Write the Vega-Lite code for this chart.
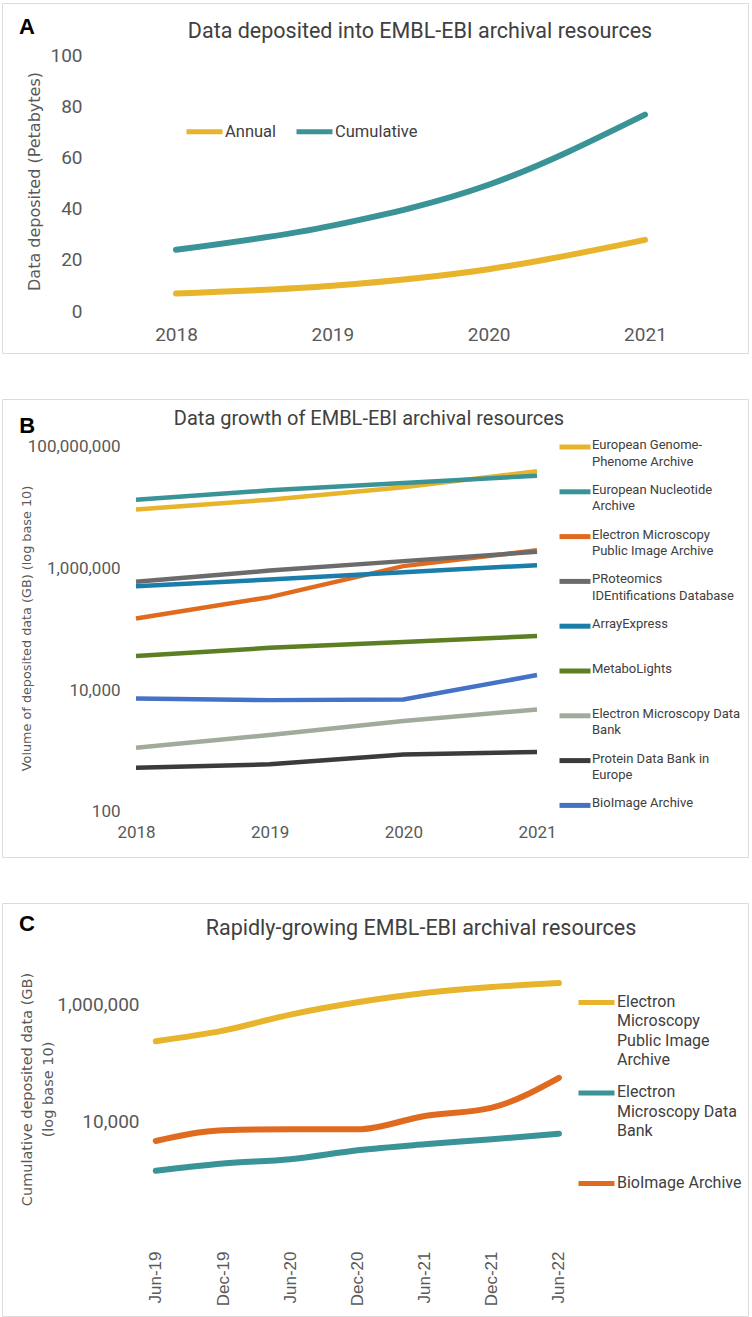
{
  "$schema": "https://vega.github.io/schema/vega-lite/v6.json",
  "padding": {"left": 1, "top": 2, "right": 4, "bottom": 2},
  "background": "white",
  "bounds": "flush",
  "spacing": 46,
  "resolve": {
    "scale": {"x": "independent", "y": "independent", "color": "independent"},
    "legend": {"color": "independent"},
    "axis": {"x": "independent", "y": "independent"}
  },
  "config": {
    "view": {"stroke": "#dcdcdc", "strokeWidth": 1},
    "axis": {
      "grid": false, "domain": false, "ticks": false, "tickSize": 0,
      "labelFont": "Roboto", "labelColor": "#595959",
      "titleFont": "DejaVu Sans", "titleColor": "#595959", "titleFontWeight": "normal",
      "labelFlush": false, "labelOverlap": false, "labelBound": false
    },
    "title": {"font": "Roboto", "color": "#404040", "fontWeight": "normal"},
    "legend": {"labelFont": "Roboto", "labelColor": "#404040"}
  },
  "vconcat": [
    {
      "width": 746,
      "height": 350,
      "title": {"text": "Data deposited into EMBL-EBI archival resources", "fontSize": 21.5, "anchor": "middle", "frame": "group", "dx": 45, "offset": -39},
      "layer": [
        {
          "data": {"values": [
            {"series": "Annual", "year": 2018, "petabytes": 6.9},
            {"series": "Annual", "year": 2019, "petabytes": 9.9},
            {"series": "Annual", "year": 2020, "petabytes": 16.4},
            {"series": "Annual", "year": 2021, "petabytes": 27.9},
            {"series": "Cumulative", "year": 2018, "petabytes": 24},
            {"series": "Cumulative", "year": 2019, "petabytes": 33.5},
            {"series": "Cumulative", "year": 2020, "petabytes": 49.5},
            {"series": "Cumulative", "year": 2021, "petabytes": 77}
          ]},
          "mark": {"type": "line", "interpolate": "monotone", "strokeWidth": 6, "strokeCap": "round"},
          "encoding": {
            "x": {"field": "year", "type": "quantitative",
              "scale": {"domain": [2016.887, 2021.659], "nice": false, "zero": false},
              "axis": {"values": [2018, 2019, 2020, 2021], "format": "d", "labelFontSize": 19, "labelPadding": 0, "labelBaseline": "middle", "offset": -19, "title": null}},
            "y": {"field": "petabytes", "type": "quantitative",
              "scale": {"domain": [-16.47, 120.78], "nice": false, "zero": false},
              "axis": {"values": [0, 20, 40, 60, 80, 100], "labelFontSize": 19, "labelPadding": 2, "offset": -82, "labelAlign": "right", "labelBaseline": "middle",
                "title": "Data deposited (Petabytes)", "titleFontSize": 16, "titleX": -50, "titleY": 178, "titleAngle": -90, "titleAlign": "center", "titleBaseline": "middle"}},
            "color": {"field": "series", "type": "nominal",
              "scale": {"domain": ["Annual", "Cumulative"], "range": ["#E7B42B", "#3A9396"]},
              "legend": {"orient": "none", "legendX": 182, "legendY": 108, "direction": "horizontal", "title": null,
                "symbolType": "stroke", "symbolSize": 1296, "symbolStrokeWidth": 5, "labelFontSize": 16.5, "labelOffset": 0, "columnPadding": 9}}
          }
        },
        {
          "data": {"values": [{"panel": "A"}]},
          "mark": {"type": "text", "font": "Liberation Sans", "fontWeight": "bold", "fontSize": 22, "color": "#000000", "align": "center", "baseline": "middle"},
          "encoding": {
            "x": {"datum": 2017.047, "type": "quantitative"},
            "y": {"datum": 111.4, "type": "quantitative"},
            "text": {"field": "panel"}
          }
        }
      ]
    },
    {
      "width": 746,
      "height": 458,
      "title": {"text": "Data growth of EMBL-EBI archival resources", "fontSize": 20, "anchor": "middle", "frame": "group", "dx": -6, "offset": -30},
      "layer": [
        {
          "data": {"values": [
            {"resource": "European Genome-Phenome Archive", "year": 2018, "gb": 9350000},
            {"resource": "European Genome-Phenome Archive", "year": 2019, "gb": 13600000},
            {"resource": "European Genome-Phenome Archive", "year": 2020, "gb": 21800000},
            {"resource": "European Genome-Phenome Archive", "year": 2021, "gb": 39800000},
            {"resource": "European Nucleotide Archive", "year": 2018, "gb": 13600000},
            {"resource": "European Nucleotide Archive", "year": 2019, "gb": 19400000},
            {"resource": "European Nucleotide Archive", "year": 2020, "gb": 25600000},
            {"resource": "European Nucleotide Archive", "year": 2021, "gb": 33800000},
            {"resource": "Electron Microscopy Public Image Archive", "year": 2018, "gb": 152000},
            {"resource": "Electron Microscopy Public Image Archive", "year": 2019, "gb": 340000},
            {"resource": "Electron Microscopy Public Image Archive", "year": 2020, "gb": 1100000},
            {"resource": "Electron Microscopy Public Image Archive", "year": 2021, "gb": 2000000},
            {"resource": "PRoteomics IDEntifications Database", "year": 2018, "gb": 607000},
            {"resource": "PRoteomics IDEntifications Database", "year": 2019, "gb": 930000},
            {"resource": "PRoteomics IDEntifications Database", "year": 2020, "gb": 1330000},
            {"resource": "PRoteomics IDEntifications Database", "year": 2021, "gb": 1890000},
            {"resource": "ArrayExpress", "year": 2018, "gb": 515000},
            {"resource": "ArrayExpress", "year": 2019, "gb": 663000},
            {"resource": "ArrayExpress", "year": 2020, "gb": 874000},
            {"resource": "ArrayExpress", "year": 2021, "gb": 1140000},
            {"resource": "MetaboLights", "year": 2018, "gb": 36500},
            {"resource": "MetaboLights", "year": 2019, "gb": 50000},
            {"resource": "MetaboLights", "year": 2020, "gb": 62000},
            {"resource": "MetaboLights", "year": 2021, "gb": 78000},
            {"resource": "Electron Microscopy Data Bank", "year": 2018, "gb": 1140},
            {"resource": "Electron Microscopy Data Bank", "year": 2019, "gb": 1840},
            {"resource": "Electron Microscopy Data Bank", "year": 2020, "gb": 3120},
            {"resource": "Electron Microscopy Data Bank", "year": 2021, "gb": 4850},
            {"resource": "Protein Data Bank in Europe", "year": 2018, "gb": 535},
            {"resource": "Protein Data Bank in Europe", "year": 2019, "gb": 607},
            {"resource": "Protein Data Bank in Europe", "year": 2020, "gb": 885},
            {"resource": "Protein Data Bank in Europe", "year": 2021, "gb": 966},
            {"resource": "BioImage Archive", "year": 2018, "gb": 7360},
            {"resource": "BioImage Archive", "year": 2019, "gb": 6900},
            {"resource": "BioImage Archive", "year": 2020, "gb": 7080},
            {"resource": "BioImage Archive", "year": 2021, "gb": 17800}
          ]},
          "mark": {"type": "line", "interpolate": "linear", "strokeWidth": 4.5},
          "encoding": {
            "x": {"field": "year", "type": "quantitative",
              "scale": {"domain": [2016.9975, 2022.5785], "nice": false, "zero": false},
              "axis": {"values": [2018, 2019, 2020, 2021], "format": "d", "labelFontSize": 17, "labelPadding": 0, "labelBaseline": "middle", "offset": -25, "title": null}},
            "y": {"field": "gb", "type": "quantitative",
              "scale": {"type": "log", "domain": [18.2, 615000000], "nice": false, "zero": false},
              "axis": {"values": [100, 10000, 1000000, 100000000], "format": ",d", "labelFontSize": 17, "labelPadding": 2, "offset": -120, "labelAlign": "right", "labelBaseline": "middle",
                "title": "Volume of deposited data (GB) (log base 10)", "titleFontSize": 12.8, "titleX": -96, "titleY": 229, "titleAngle": -90, "titleAlign": "center", "titleBaseline": "middle"}},
            "color": {"field": "resource", "type": "nominal",
              "scale": {
                "domain": ["European Genome-Phenome Archive", "European Nucleotide Archive", "Electron Microscopy Public Image Archive", "PRoteomics IDEntifications Database", "ArrayExpress", "MetaboLights", "Electron Microscopy Data Bank", "Protein Data Bank in Europe", "BioImage Archive"],
                "range": ["#E7B42B", "#3A9396", "#E06B1F", "#6B6B6B", "#1A7DAA", "#5B7F22", "#A0AB9B", "#3B3B3B", "#4472C4"]},
              "legend": {"orient": "none", "legendX": 555, "legendY": 30, "direction": "vertical", "title": null,
                "symbolType": "stroke", "symbolSize": 961, "symbolStrokeWidth": 5, "labelFontSize": 13, "labelOffset": -1, "labelLimit": 250,
                "gridAlign": "all", "rowPadding": 4.8, "labelBaseline": "top",
                "labelExpr": "datum.label == 'European Genome-Phenome Archive' ? ['European Genome-', 'Phenome Archive'] : datum.label == 'European Nucleotide Archive' ? ['European Nucleotide', 'Archive'] : datum.label == 'Electron Microscopy Public Image Archive' ? ['Electron Microscopy', 'Public Image Archive'] : datum.label == 'PRoteomics IDEntifications Database' ? ['PRoteomics', 'IDEntifications Database'] : datum.label == 'Electron Microscopy Data Bank' ? ['Electron Microscopy Data', 'Bank'] : datum.label == 'Protein Data Bank in Europe' ? ['Protein Data Bank in', 'Europe'] : datum.label",
                "encode": {"labels": {"update": {"lineHeight": {"value": 16.5}, "dy": {"value": -8}}}}}}
          }
        },
        {
          "data": {"values": [{"panel": "B"}]},
          "mark": {"type": "text", "font": "Liberation Sans", "fontWeight": "bold", "fontSize": 22, "color": "#000000", "align": "center", "baseline": "middle"},
          "encoding": {
            "x": {"datum": 2017.185, "type": "quantitative"},
            "y": {"datum": 225000000, "type": "quantitative"},
            "text": {"field": "panel"}
          }
        }
      ]
    },
    {
      "width": 746,
      "height": 413,
      "title": {"text": "Rapidly-growing EMBL-EBI archival resources", "fontSize": 21.5, "anchor": "middle", "frame": "group", "dx": 46, "offset": -36},
      "layer": [
        {
          "data": {"values": [
            {"resource": "Electron Microscopy Public Image Archive", "date": "2019-06-01", "gb": 231000},
            {"resource": "Electron Microscopy Public Image Archive", "date": "2019-12-01", "gb": 350000},
            {"resource": "Electron Microscopy Public Image Archive", "date": "2020-06-01", "gb": 660000},
            {"resource": "Electron Microscopy Public Image Archive", "date": "2020-12-01", "gb": 1070000},
            {"resource": "Electron Microscopy Public Image Archive", "date": "2021-06-01", "gb": 1540000},
            {"resource": "Electron Microscopy Public Image Archive", "date": "2021-12-01", "gb": 1950000},
            {"resource": "Electron Microscopy Public Image Archive", "date": "2022-06-01", "gb": 2280000},
            {"resource": "Electron Microscopy Data Bank", "date": "2019-06-01", "gb": 1406},
            {"resource": "Electron Microscopy Data Bank", "date": "2019-12-01", "gb": 1877},
            {"resource": "Electron Microscopy Data Bank", "date": "2020-06-01", "gb": 2223},
            {"resource": "Electron Microscopy Data Bank", "date": "2020-12-01", "gb": 3163},
            {"resource": "Electron Microscopy Data Bank", "date": "2021-06-01", "gb": 4000},
            {"resource": "Electron Microscopy Data Bank", "date": "2021-12-01", "gb": 4870},
            {"resource": "Electron Microscopy Data Bank", "date": "2022-06-01", "gb": 6080},
            {"resource": "BioImage Archive", "date": "2019-06-01", "gb": 4560},
            {"resource": "BioImage Archive", "date": "2019-12-01", "gb": 6930},
            {"resource": "BioImage Archive", "date": "2020-06-01", "gb": 7210},
            {"resource": "BioImage Archive", "date": "2020-12-01", "gb": 7200},
            {"resource": "BioImage Archive", "date": "2021-06-01", "gb": 12200},
            {"resource": "BioImage Archive", "date": "2021-12-01", "gb": 16900},
            {"resource": "BioImage Archive", "date": "2022-06-01", "gb": 54800}
          ]},
          "mark": {"type": "line", "interpolate": "monotone", "strokeWidth": 6, "strokeCap": "round"},
          "encoding": {
            "x": {"field": "date", "type": "temporal",
              "scale": {"type": "utc", "domain": [{"year": 2018, "month": 4, "date": 9, "utc": true}, {"year": 2023, "month": 10, "date": 28, "utc": true}], "nice": false},
              "axis": {"values": [
                  {"year": 2019, "month": 6, "date": 1, "utc": true},
                  {"year": 2019, "month": 12, "date": 1, "utc": true},
                  {"year": 2020, "month": 6, "date": 1, "utc": true},
                  {"year": 2020, "month": 12, "date": 1, "utc": true},
                  {"year": 2021, "month": 6, "date": 1, "utc": true},
                  {"year": 2021, "month": 12, "date": 1, "utc": true},
                  {"year": 2022, "month": 6, "date": 1, "utc": true}
                ],
                "labelExpr": "utcFormat(datum.value, '%b-%y')", "labelFont": "Liberation Sans", "labelFontSize": 17, "labelAngle": -90, "labelAlign": "right", "labelBaseline": "middle",
                "labelPadding": 0, "offset": -65, "title": null}},
            "y": {"field": "gb", "type": "quantitative",
              "scale": {"type": "log", "domain": [4.64, 53300000], "nice": false, "zero": false},
              "axis": {"values": [10000, 1000000], "format": ",d", "labelFontSize": 19, "labelPadding": 2, "offset": -139, "labelAlign": "right", "labelBaseline": "middle",
                "title": ["Cumulative deposited data (GB)", "(log base 10)"], "titleFontSize": 14.5, "titleLineHeight": 21, "titleX": -114, "titleY": 186, "titleAngle": -90, "titleAlign": "center", "titleBaseline": "middle"}},
            "color": {"field": "resource", "type": "nominal",
              "scale": {
                "domain": ["Electron Microscopy Public Image Archive", "Electron Microscopy Data Bank", "BioImage Archive"],
                "range": ["#E7B42B", "#3A9396", "#E06B1F"]},
              "legend": {"orient": "none", "legendX": 574, "legendY": 79, "direction": "vertical", "title": null,
                "symbolType": "stroke", "symbolSize": 1296, "symbolStrokeWidth": 5, "labelFontSize": 16, "labelOffset": 0, "labelLimit": 250,
                "gridAlign": "all", "rowPadding": 4.5, "labelBaseline": "top",
                "labelExpr": "datum.label == 'Electron Microscopy Public Image Archive' ? ['Electron', 'Microscopy', 'Public Image', 'Archive'] : datum.label == 'Electron Microscopy Data Bank' ? ['Electron', 'Microscopy Data', 'Bank'] : datum.label",
                "encode": {"labels": {"update": {"lineHeight": {"value": 19.5}, "dy": {"value": -9}}}}}}
          }
        },
        {
          "data": {"values": [{"panel": "C"}]},
          "mark": {"type": "text", "font": "Liberation Sans", "fontWeight": "bold", "fontSize": 22, "color": "#000000", "align": "center", "baseline": "middle"},
          "encoding": {
            "x": {"datum": {"year": 2018, "month": 6, "date": 16, "utc": true}, "type": "temporal"},
            "y": {"datum": 23300000, "type": "quantitative"},
            "text": {"field": "panel"}
          }
        }
      ]
    }
  ]
}
